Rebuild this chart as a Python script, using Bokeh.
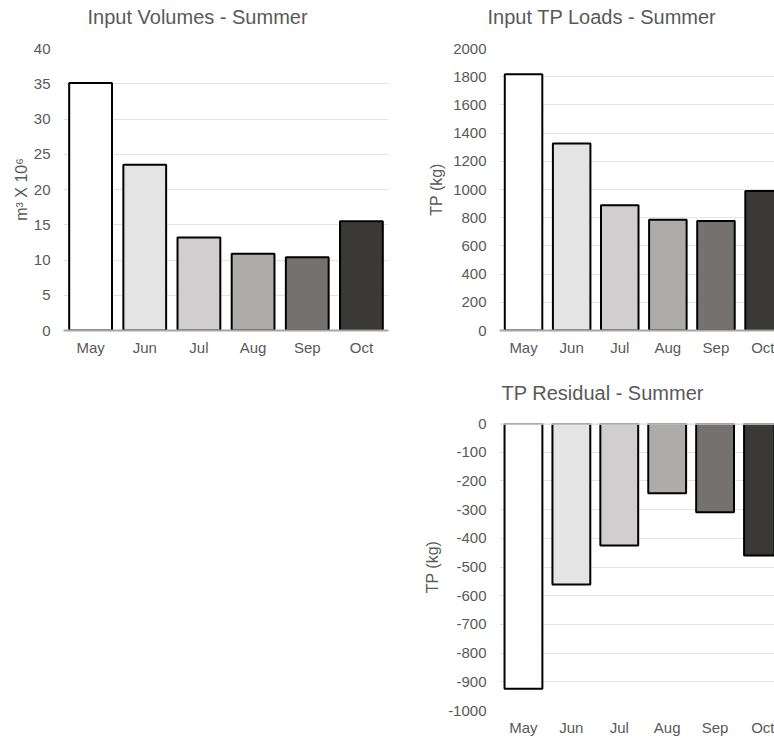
from bokeh.plotting import figure
from bokeh.models import FixedTicker, Span, ColumnDataSource, Range1d, Title
from bokeh.layouts import column, row
from bokeh.embed import file_html
from bokeh.resources import INLINE

months = ["May", "Jun", "Jul", "Aug", "Sep", "Oct"]
bar_colors = ["#FFFFFF", "#E5E4E4", "#D0CECE", "#AEABAB", "#767171", "#3B3838"]

volumes = [35.1, 23.5, 13.2, 10.9, 10.4, 15.5]
volume_ticks = [0, 5, 10, 15, 20, 25, 30, 35, 40]

tp_loads = [1818, 1326, 888, 786, 776, 989]
load_ticks = [0, 200, 400, 600, 800, 1000, 1200, 1400, 1600, 1800, 2000]

tp_residual = [-924, -561, -425, -243, -309, -460]
residual_ticks = [0, -100, -200, -300, -400, -500, -600, -700, -800, -900, -1000]

FONT = "Liberation Sans"
TEXT = "#595959"
GRID = "#E4E4E4"


def make_chart(title, values, yticks, ylabel, frame_w, frame_h, x_end, bar_w,
               borders, title_offset, title_gap, label_standoff, axis_line):
    idx = list(range(len(months)))
    src = ColumnDataSource(dict(x=idx, top=values, color=bar_colors))
    left, right, top, bottom = borders
    p = figure(frame_width=frame_w, frame_height=frame_h,
               x_range=Range1d(-0.5, x_end),
               y_range=Range1d(min(yticks), max(yticks)),
               output_backend="svg", toolbar_location=None,
               min_border_left=left, min_border_right=right,
               min_border_top=top, min_border_bottom=bottom)
    p.outline_line_color = None
    p.background_fill_color = "white"
    p.border_fill_color = "white"

    p.vbar(x="x", top="top", bottom=0, width=bar_w, fill_color="color",
           line_color="black", line_width=2, source=src)

    # empty gap between the title and the plot area
    p.add_layout(Title(text=" ", text_font_size="1px", standoff=title_gap), "above")

    p.title.text = title
    p.title.align = "left"
    p.title.offset = title_offset
    p.title.vertical_align = "top"
    p.title.standoff = 0
    p.title.text_font = FONT
    p.title.text_font_size = "20px"
    p.title.text_font_style = "normal"
    p.title.text_color = TEXT

    p.xgrid.visible = False
    p.ygrid.grid_line_color = GRID
    p.ygrid.grid_line_width = 1

    xa = p.xaxis[0]
    xa.ticker = FixedTicker(ticks=idx)
    xa.major_label_overrides = {i: m for i, m in enumerate(months)}
    xa.major_tick_line_color = None
    xa.minor_tick_line_color = None
    xa.major_tick_out = 0
    xa.major_tick_in = 0
    xa.major_label_standoff = 8
    xa.major_label_text_font = FONT
    xa.major_label_text_font_size = "15px"
    xa.major_label_text_color = TEXT
    if axis_line:
        xa.axis_line_color = "#A6A6A6"
        xa.axis_line_width = 2
    else:
        xa.axis_line_color = None

    ya = p.yaxis[0]
    ya.ticker = FixedTicker(ticks=yticks)
    ya.major_label_overrides = {t: str(t) for t in yticks}
    ya.major_tick_line_color = None
    ya.minor_tick_line_color = None
    ya.major_tick_out = 0
    ya.major_tick_in = 0
    ya.axis_line_color = None
    ya.major_label_standoff = 13
    ya.major_label_text_font = FONT
    ya.major_label_text_font_size = "15px"
    ya.major_label_text_color = TEXT
    ya.axis_label = ylabel
    ya.axis_label_standoff = label_standoff
    ya.axis_label_text_font = FONT
    ya.axis_label_text_font_size = "16px"
    ya.axis_label_text_font_style = "normal"
    ya.axis_label_text_color = TEXT
    return p


p1 = make_chart("Input Volumes - Summer", volumes, volume_ticks, "m³ X 10⁶",
                325, 282, 5.5, 0.79, (63, 12, 48, 35), 24, 16, 1, True)
p2 = make_chart("Input TP Loads - Summer", tp_loads, load_ticks, "TP (kg)",
                279, 282, 5.3, 0.78, (95, 0, 48, 35), -12, 16, 5, True)
p3 = make_chart("TP Residual - Summer", tp_residual, residual_ticks, "TP (kg)",
                275, 287, 5.24, 0.79, (99, 0, 58, 28), 2, 15, 4, False)
p3.add_layout(Span(location=0, dimension="width", line_color="#D9D9D9",
                   line_width=2.5))

layout = row(p1, column(p2, p3))

with open("out.html", "w") as f:
    f.write(file_html(layout, INLINE))
